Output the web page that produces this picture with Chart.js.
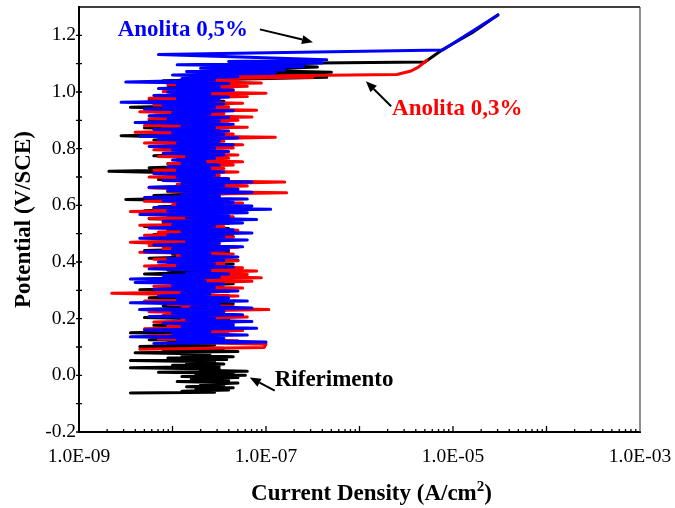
<!DOCTYPE html>
<html>
<head>
<meta charset="utf-8">
<script src="https://cdn.jsdelivr.net/npm/chart.js@4.4.1/dist/chart.umd.min.js"></script>
<style>
  html, body { margin: 0; padding: 0; background: #fff; }
  canvas { display: block; }
</style>
</head>
<body>
<canvas id="chart" width="675" height="508"></canvas>
<script>
// Potentiodynamic polarization scans.
// Each point: [log10 of current density (A/cm2), potential (V/SCE)]
const xTickValues = [1e-9, 1e-7, 1e-5, 1e-3];

const riferimento = [
  [-8.45,-0.062],[-7.55,-0.060],[-7.90,-0.056],[-7.40,-0.052],[-7.75,-0.048],[-7.35,-0.044],[-7.85,-0.040],
  [-7.45,-0.036],[-7.70,-0.032],[-7.30,-0.027],[-7.95,-0.022],[-7.40,-0.018],[-7.80,-0.013],[-7.30,-0.008],
  [-7.90,-0.004],[-7.22,0.000],[-7.75,0.004],[-7.35,0.007],[-8.15,0.011],[-7.20,0.014],[-7.70,0.018],
  [-7.50,0.022],[-8.45,0.027],[-7.50,0.031],[-8.00,0.036],[-7.45,0.040],[-7.85,0.044],[-7.55,0.048],
  [-8.45,0.052],[-7.42,0.056],[-8.05,0.061],[-7.35,0.066],[-7.90,0.071],[-7.60,0.075],[-8.40,0.080],
  [-7.30,0.084],[-8.10,0.090],[-7.45,0.096],
  [-8.35,0.102],[-7.55,0.108],[-8.05,0.114],[-7.40,0.120],[-8.25,0.126],[-7.60,0.132],[-7.95,0.138],
  [-7.45,0.144],[-8.45,0.150],[-7.50,0.157],[-8.00,0.164],[-7.35,0.170],[-8.20,0.177],[-7.55,0.184],
  [-7.90,0.190],[-7.40,0.197],[-8.30,0.204],[-7.60,0.211],[-8.05,0.218],[-7.45,0.225],[-8.35,0.232],
  [-7.50,0.239],[-8.10,0.246],[-7.35,0.253],[-7.95,0.260],[-7.55,0.267],[-8.25,0.274],[-7.40,0.281],
  [-8.05,0.288],[-7.60,0.295],[-8.35,0.302],[-7.45,0.309],[-8.00,0.316],[-7.35,0.323],[-8.20,0.330],
  [-7.55,0.337],[-7.90,0.344],[-7.40,0.351],[-8.30,0.358],[-7.60,0.365],[-8.05,0.372],[-7.50,0.379],
  [-8.15,0.386],[-7.35,0.393],[-7.95,0.400],[-7.30,0.406],[-8.25,0.413],[-7.55,0.420],[-8.00,0.427],
  [-7.40,0.434],[-8.30,0.441],[-7.50,0.448],[-8.10,0.455],[-7.60,0.462],[-8.40,0.469],[-7.45,0.476],
  [-7.95,0.483],[-7.35,0.490],[-8.20,0.497],[-7.55,0.504],[-8.05,0.511],[-7.40,0.518],[-8.30,0.525],
  [-7.50,0.532],[-8.10,0.539],[-7.45,0.546],[-8.25,0.553],[-7.60,0.560],[-8.00,0.567],[-7.40,0.574],
  [-8.30,0.581],[-7.55,0.588],[-8.15,0.595],[-7.45,0.602],[-7.95,0.609],[-7.60,0.615],[-8.50,0.621],
  [-7.50,0.628],[-8.20,0.635],[-7.40,0.642],[-8.05,0.649],[-7.55,0.656],[-8.25,0.663],[-7.45,0.670],
  [-7.90,0.677],[-7.60,0.684],[-8.15,0.691],[-7.50,0.698],[-8.00,0.705],[-7.65,0.712],[-8.68,0.720],
  [-7.75,0.726],[-8.25,0.733],[-7.55,0.740],[-8.05,0.747],[-7.50,0.754],[-7.95,0.761],[-7.60,0.768],
  [-8.20,0.775],[-7.45,0.782],[-7.90,0.789],[-7.55,0.796],[-8.10,0.803],[-7.40,0.810],[-8.00,0.817],
  [-7.60,0.824],[-8.20,0.831],[-7.50,0.838],[-8.55,0.846],[-7.45,0.853],[-8.10,0.860],[-7.55,0.867],
  [-8.30,0.874],[-7.40,0.881],[-8.05,0.888],[-7.60,0.895],[-8.25,0.902],[-7.45,0.909],[-7.95,0.916],
  [-7.55,0.923],[-8.20,0.930],[-7.40,0.937],[-8.45,0.946],[-7.60,0.953],[-8.10,0.960],[-7.45,0.967],
  [-8.25,0.974],[-7.50,0.981],[-8.00,0.988],[-7.35,0.995],[-7.90,1.002],[-7.45,1.009],[-8.05,1.016],
  [-7.30,1.022],[-7.95,1.028],[-7.40,1.034],[-8.10,1.040],[-6.35,1.052],[-7.40,1.058],[-6.30,1.070],
  [-7.30,1.078],[-6.45,1.088],[-7.10,1.096],[-6.45,1.102],[-5.30,1.106],[-5.11,1.150],[-4.80,1.208],
  [-4.52,1.272]
];

const anolita03 = [
  [-8.35,0.092],[-7.02,0.098],[-7.00,0.110],[-7.85,0.116],[-7.30,0.122],[-8.15,0.128],[-7.55,0.134],
  [-8.25,0.140],[-7.40,0.146],[-7.95,0.152],[-7.25,0.158],[-8.30,0.164],[-7.60,0.170],[-8.05,0.176],
  [-7.35,0.182],[-8.20,0.188],[-7.50,0.194],[-7.90,0.200],[-7.20,0.206],[-8.10,0.212],[-7.45,0.218],
  [-8.25,0.224],[-6.97,0.232],[-7.90,0.238],[-7.35,0.244],[-8.05,0.250],[-7.55,0.256],[-8.30,0.262],
  [-7.45,0.268],[-7.95,0.274],[-7.30,0.280],[-8.10,0.286],[-8.65,0.290],[-7.40,0.296],[-8.00,0.302],
  [-7.25,0.308],[-8.20,0.314],[-7.50,0.320],[-7.90,0.326],[-7.15,0.332],[-8.25,0.338],[-7.05,0.344],
  [-7.80,0.350],[-7.20,0.356],[-7.70,0.362],[-7.10,0.368],[-7.85,0.374],[-7.25,0.380],[-8.30,0.386],
  [-7.45,0.392],[-8.05,0.398],[-7.30,0.404],[-8.20,0.410],[-7.55,0.416],[-7.95,0.422],[-7.35,0.428],
  [-8.35,0.434],[-7.45,0.440],[-8.10,0.446],[-7.30,0.452],[-8.25,0.458],[-7.50,0.464],[-8.45,0.470],
  [-7.40,0.476],[-8.00,0.482],[-7.35,0.488],[-8.30,0.494],[-7.55,0.500],[-8.15,0.506],[-7.30,0.512],
  [-7.95,0.518],[-7.45,0.524],[-8.35,0.530],[-7.40,0.536],[-8.10,0.542],[-7.50,0.548],[-8.25,0.554],
  [-7.35,0.560],[-8.05,0.566],[-7.55,0.572],[-8.45,0.578],[-7.40,0.584],[-8.20,0.590],[-7.45,0.596],
  [-8.00,0.602],[-7.25,0.608],[-8.30,0.614],[-7.40,0.620],[-8.10,0.626],[-7.50,0.632],[-7.90,0.638],
  [-6.78,0.644],[-8.05,0.650],[-7.30,0.656],[-8.25,0.662],[-7.20,0.668],[-7.95,0.674],[-6.80,0.682],
  [-8.10,0.688],[-7.40,0.694],[-8.25,0.700],[-7.50,0.706],[-8.00,0.712],[-7.30,0.718],[-8.20,0.724],
  [-7.45,0.730],[-7.90,0.736],[-7.35,0.742],[-8.05,0.748],[-7.25,0.754],[-7.85,0.760],[-7.40,0.766],
  [-8.15,0.772],[-7.30,0.778],[-7.95,0.784],[-7.45,0.790],[-8.20,0.796],[-7.35,0.802],[-8.00,0.808],
  [-7.25,0.814],[-8.30,0.820],[-7.45,0.826],[-8.05,0.832],[-6.90,0.840],[-8.15,0.846],[-7.35,0.852],
  [-8.40,0.858],[-7.50,0.864],[-8.10,0.870],[-7.20,0.876],[-8.30,0.882],[-7.40,0.888],[-8.05,0.894],
  [-7.30,0.900],[-8.25,0.906],[-7.15,0.912],[-8.00,0.918],[-7.45,0.924],[-8.35,0.930],[-7.10,0.936],
  [-8.10,0.942],[-7.40,0.948],[-8.20,0.954],[-7.25,0.960],[-7.95,0.966],[-7.50,0.972],[-8.25,0.978],
  [-7.20,0.984],[-8.00,0.990],[-7.00,0.996],[-8.10,1.002],[-7.35,1.008],[-7.90,1.014],[-7.20,1.020],
  [-8.05,1.026],[-7.05,1.032],[-7.80,1.038],[-7.30,1.044],[-7.70,1.048],[-6.50,1.052],[-7.60,1.055],
  [-5.60,1.062],[-5.45,1.074],[-5.37,1.088],[-5.28,1.112]
];

const anolita05 = [
  [-8.20,0.112],[-7.00,0.118],[-7.95,0.124],[-7.45,0.130],[-8.45,0.136],[-7.20,0.142],[-8.00,0.148],
  [-7.60,0.154],[-8.30,0.160],[-7.10,0.166],[-7.90,0.172],[-7.35,0.178],[-8.10,0.184],[-7.15,0.190],
  [-7.85,0.196],[-7.55,0.202],[-8.25,0.208],[-7.25,0.214],[-8.00,0.220],[-7.45,0.226],[-8.35,0.232],
  [-7.15,0.238],[-7.80,0.244],[-7.50,0.250],[-8.45,0.256],[-7.20,0.262],[-7.95,0.268],[-7.40,0.274],
  [-8.15,0.280],[-7.60,0.286],[-7.90,0.292],[-7.30,0.298],[-8.20,0.304],[-7.55,0.310],[-8.00,0.316],
  [-7.45,0.322],[-8.40,0.328],[-7.65,0.334],[-8.45,0.340],[-7.50,0.346],[-8.10,0.352],[-7.40,0.358],
  [-7.85,0.364],[-7.60,0.370],[-8.25,0.376],[-7.35,0.382],[-7.95,0.388],[-7.55,0.394],[-8.15,0.400],
  [-7.45,0.406],[-8.05,0.412],[-7.30,0.418],[-7.90,0.424],[-7.60,0.430],[-8.30,0.436],[-7.40,0.442],
  [-8.00,0.448],[-7.25,0.454],[-8.20,0.460],[-7.50,0.466],[-7.85,0.472],[-7.20,0.478],[-8.35,0.484],
  [-7.45,0.490],[-8.05,0.496],[-7.15,0.502],[-7.90,0.508],[-7.35,0.514],[-8.25,0.520],[-7.55,0.526],
  [-8.00,0.532],[-7.25,0.538],[-8.10,0.544],[-7.10,0.550],[-7.85,0.556],[-7.40,0.562],[-8.35,0.568],
  [-7.20,0.574],[-8.05,0.580],[-6.95,0.586],[-8.20,0.592],[-7.15,0.598],[-7.95,0.604],[-7.35,0.610],
  [-8.10,0.616],[-7.20,0.622],[-8.30,0.628],[-7.50,0.634],[-7.90,0.640],[-7.15,0.646],[-8.05,0.652],
  [-7.30,0.658],[-8.25,0.664],[-7.45,0.670],[-7.90,0.676],[-7.15,0.682],[-8.10,0.688],[-7.40,0.694],
  [-7.95,0.700],[-7.55,0.706],[-8.20,0.712],[-7.45,0.718],[-7.95,0.724],[-7.60,0.730],[-8.05,0.736],
  [-7.50,0.742],[-7.90,0.748],[-7.65,0.754],[-8.00,0.760],[-7.55,0.766],[-7.85,0.772],[-7.45,0.778],
  [-8.10,0.784],[-7.40,0.790],[-8.00,0.796],[-7.55,0.802],[-8.25,0.808],[-7.35,0.814],[-7.95,0.820],
  [-7.50,0.826],[-8.15,0.832],[-7.30,0.838],[-8.35,0.844],[-7.45,0.850],[-8.00,0.856],[-7.40,0.862],
  [-8.20,0.868],[-7.55,0.874],[-7.90,0.880],[-7.35,0.886],[-8.40,0.892],[-7.50,0.898],[-8.05,0.904],
  [-7.40,0.910],[-8.25,0.916],[-7.60,0.922],[-8.00,0.928],[-7.35,0.934],[-8.30,0.940],[-7.55,0.946],
  [-8.10,0.952],[-7.45,0.958],[-8.55,0.964],[-7.50,0.970],[-7.95,0.976],[-7.40,0.982],[-8.20,0.988],
  [-7.60,0.994],[-8.05,1.000],[-7.35,1.006],[-8.15,1.012],[-7.50,1.018],[-7.95,1.024],[-7.40,1.030],
  [-8.50,1.035],[-7.55,1.042],[-7.90,1.048],[-7.30,1.054],[-8.00,1.060],[-6.90,1.066],[-7.85,1.072],
  [-6.80,1.078],[-7.70,1.084],[-6.60,1.090],[-7.95,1.096],[-6.40,1.102],[-7.40,1.108],[-6.35,1.114],
  [-7.10,1.122],[-8.15,1.132],[-5.11,1.148],[-4.52,1.272]
];

// Callout labels with arrows, positioned in data units [current density, potential]
const notes = [
  { text: 'Anolita 0,5%', color: '#0000ff', at: [2.59e-9, 1.197], from: [8.6e-8, 1.221], to: [3.18e-7, 1.176] },
  { text: 'Anolita 0,3%', color: '#ff0000', at: [2.23e-6, 0.919], from: [2.18e-6, 0.950], to: [1.17e-6, 1.038] },
  { text: 'Riferimento',  color: '#000000', at: [1.24e-7, -0.036], from: [1.24e-7, -0.054], to: [6.7e-8, -0.008] }
];

const SERIF = '"Liberation Serif", "Times New Roman", serif';
const toPoints = arr => arr.map(([lj, e]) => ({ x: Math.pow(10, lj), y: e }));

function sciLabel(v) {
  const e = Math.round(Math.log10(v));
  return '1.0E' + (e < 0 ? '-' : '+') + String(Math.abs(e)).padStart(2, '0');
}

function noScalePadding(s) {
  s.paddingTop = 0; s.paddingBottom = 0; s.paddingLeft = 0; s.paddingRight = 0;
}

// Frame, inward ticks on the log axis, crossing ticks on the potential axis
const frameTicks = {
  id: 'frameTicks',
  afterDraw(chart) {
    const { ctx, chartArea: a, scales: { x, y } } = chart;
    ctx.save();
    ctx.strokeStyle = '#000';
    ctx.lineWidth = 1.5;
    ctx.beginPath();
    ctx.moveTo(a.left, a.top); ctx.lineTo(a.right, a.top);
    ctx.stroke();
    ctx.strokeStyle = '#444';
    ctx.lineWidth = 1.2;
    ctx.beginPath();
    ctx.moveTo(a.right, a.top); ctx.lineTo(a.right, a.bottom);
    ctx.stroke();

    ctx.strokeStyle = '#000';
    ctx.lineWidth = 1.3;
    ctx.beginPath();
    for (let e = -9; e < -3; e++) {
      for (let m = 1; m <= 9; m++) {
        const px = x.getPixelForValue(m * Math.pow(10, e));
        const len = m === 1 ? 6 : 3;
        ctx.moveTo(px, a.bottom); ctx.lineTo(px, a.bottom - len);
      }
    }
    y.ticks.forEach(t => {
      if (t.value > 1.25) return;
      const py = y.getPixelForValue(t.value);
      ctx.moveTo(a.left - 3, py); ctx.lineTo(a.left + 3, py);
    });
    ctx.stroke();

    // x-axis title with a superscript exponent
    const parts = [
      { t: 'Current Density (A/cm', size: 23, rise: 0 },
      { t: '2', size: 15, rise: 9 },
      { t: ')', size: 23, rise: 0 }
    ];
    ctx.fillStyle = '#000';
    ctx.textBaseline = 'alphabetic';
    ctx.textAlign = 'left';
    let total = 0;
    parts.forEach(p => { ctx.font = 'bold ' + p.size + 'px ' + SERIF; p.w = ctx.measureText(p.t).width; total += p.w; });
    let cx = (a.left + a.right) / 2 + 12 - total / 2;
    const base = chart.height - 8;
    parts.forEach(p => {
      ctx.font = 'bold ' + p.size + 'px ' + SERIF;
      ctx.fillText(p.t, cx, base - p.rise);
      cx += p.w;
    });
    ctx.restore();
  }
};

const callouts = {
  id: 'callouts',
  afterDatasetsDraw(chart) {
    const { ctx, scales: { x, y } } = chart;
    const P = ([vx, vy]) => [x.getPixelForValue(vx), y.getPixelForValue(vy)];
    ctx.save();
    ctx.font = 'bold 23px ' + SERIF;
    ctx.textBaseline = 'alphabetic';
    notes.forEach(n => {
      const [tx, ty] = P(n.at);
      ctx.fillStyle = n.color;
      ctx.fillText(n.text, tx, ty);
      const [x0, y0] = P(n.from);
      const [x1, y1] = P(n.to);
      const ang = Math.atan2(y1 - y0, x1 - x0);
      const L = 11, W = 4.5;
      const bx = x1 - L * Math.cos(ang), by = y1 - L * Math.sin(ang);
      ctx.strokeStyle = '#000';
      ctx.lineWidth = 2;
      ctx.beginPath();
      ctx.moveTo(x0, y0); ctx.lineTo(bx, by);
      ctx.stroke();
      ctx.fillStyle = '#000';
      ctx.beginPath();
      ctx.moveTo(x1, y1);
      ctx.lineTo(bx + W * Math.sin(ang), by - W * Math.cos(ang));
      ctx.lineTo(bx - W * Math.sin(ang), by + W * Math.cos(ang));
      ctx.closePath();
      ctx.fill();
    });
    ctx.restore();
  }
};

const line = color => ({ borderColor: color, backgroundColor: color, showLine: true, borderWidth: 3,
  pointRadius: 0, tension: 0, fill: false, borderJoinStyle: 'round', borderCapStyle: 'round' });

new Chart(document.getElementById('chart'), {
  type: 'scatter',
  data: {
    datasets: [
      Object.assign({ label: 'Anolita 0,5%', data: toPoints(anolita05) }, line('#0000ff')),
      Object.assign({ label: 'Anolita 0,3%', data: toPoints(anolita03) }, line('#ff0000')),
      Object.assign({ label: 'Riferimento', data: toPoints(riferimento) }, line('#000000'))
    ]
  },
  options: {
    responsive: false,
    animation: false,
    devicePixelRatio: 1,
    layout: { padding: { top: 7, right: 35, left: 0, bottom: 0 } },
    plugins: { legend: { display: false }, tooltip: { enabled: false } },
    scales: {
      x: {
        type: 'logarithmic',
        min: 1e-9, max: 1e-3,
        afterBuildTicks(s) { s.ticks = xTickValues.map(v => ({ value: v })); },
        afterFit(s) { s.height = 76; noScalePadding(s); },
        grid: { display: false, drawTicks: false },
        border: { display: true, color: '#000', width: 2 },
        ticks: { autoSkip: false, maxRotation: 0, minRotation: 0, padding: 13, color: '#000',
                 font: { family: SERIF, size: 19.5 }, callback: v => sciLabel(v) },
        title: { display: false }
      },
      y: {
        min: -0.2, max: 1.3,
        afterFit(s) { s.width = 79; noScalePadding(s); },
        grid: { display: false, drawTicks: false },
        border: { display: true, color: '#000', width: 2 },
        ticks: { stepSize: 0.1, autoSkip: false, padding: 3, color: '#000',
                 font: { family: SERIF, size: 19.5 },
                 callback: v => { const n = Math.round(v * 10); return n % 2 === 0 ? (n / 10).toFixed(1) : ''; } },
        title: { display: true, text: 'Potential (V/SCE)', color: '#000',
                 font: { family: SERIF, size: 23, weight: 'bold' }, padding: { top: 10, bottom: 0 } }
      }
    }
  },
  plugins: [frameTicks, callouts]
});
</script>
</body>
</html>
